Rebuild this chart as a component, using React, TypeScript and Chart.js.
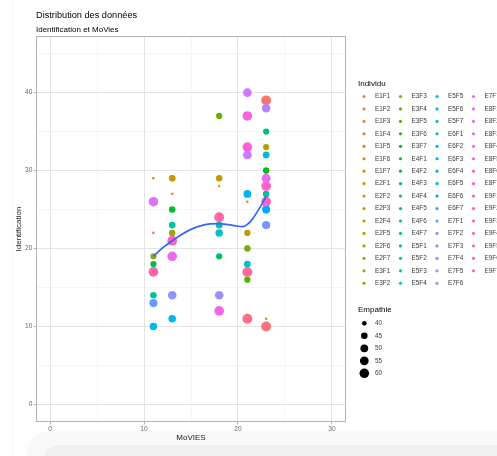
import React, { useEffect, useRef } from 'react';
import { Chart, registerables } from 'chart.js';

Chart.register(...registerables);

// ---------- data ----------
const individus = [
  'E1F1','E1F2','E1F3','E1F4','E1F5','E1F6','E1F7',
  'E2F1','E2F2','E2F3','E2F4','E2F5','E2F6','E2F7',
  'E3F1','E3F2','E3F3','E3F4','E3F5','E3F6','E3F7',
  'E4F1','E4F2','E4F3','E4F4','E4F5','E4F6','E4F7',
  'E5F1','E5F2','E5F3','E5F4','E5F5','E5F6','E5F7',
  'E6F1','E6F2','E6F3','E6F4','E6F5','E6F6','E6F7',
  'E7F1','E7F2','E7F3','E7F4','E7F5','E7F6','E7F7',
  'E8F1','E8F2','E8F3','E8F4','E8F5','E8F6','E8F7',
  'E9F1','E9F2','E9F3','E9F4','E9F5','E9F6','E9F7',
];

const movies = [
  23, 11, 13, 18, 21, 23, 11,
  13, 13, 18, 21, 23, 13, 13,
  11, 21, 21, 18, 21, 23, 23,
  13, 11, 18, 23, 23, 23, 23,
  11, 13, 18, 21, 23, 18, 11,
  11, 13, 21, 23, 23, 23, 23,
  11, 23, 13, 18, 23, 21, 21,
  11, 23, 13, 18, 21, 21, 23,
  23, 13, 11, 18, 21, 21, 23,
];

const identification = [
  39, 22, 27, 28, 26, 11, 29,
  29, 29, 29, 22, 33, 22, 22,
  19, 20, 20, 37, 16, 30, 30,
  25, 18, 19, 35, 27, 27, 27,
  14, 23, 23, 18, 32, 22, 10,
  10, 11, 27, 25, 25, 23, 23,
  13, 23, 14, 14, 38, 32, 40,
  26, 29, 19, 12, 37, 33, 28,
  26, 21, 17, 24, 17, 11, 10,
];

const empathie = [
  62, 38, 38, 38, 38, 38, 38,
  44, 45, 45, 44, 44, 43, 44,
  44, 43, 44, 44, 44, 43, 44,
  45, 44, 44, 44, 43, 43, 44,
  45, 46, 46, 46, 46, 49, 46,
  48, 49, 50, 48, 50, 48, 48,
  52, 51, 54, 54, 54, 55, 55,
  60, 56, 60, 60, 60, 60, 61,
  61, 61, 61, 62, 62, 62, 62,
];

// loess smooth
const smoothX = [11, 12, 13, 14, 15, 16, 17, 18, 19, 20, 20.5, 21, 21.5, 22, 22.5, 23];
const smoothY = [19.0, 20.1, 21.0, 21.8, 22.45, 22.9, 23.15, 23.2, 23.05, 22.85, 22.8, 23.1, 23.7, 24.6, 25.6, 26.7];

const xMajorTicks = [0, 10, 20, 30];
const xMinorTicks = [5, 15, 25];
const yMajorTicks = [0, 10, 20, 30, 40];
const yMinorTicks = [5, 15, 25, 35, 45];
const empathieBreaks = [40, 45, 50, 55, 60];

const TITLE = 'Distribution des données';
const SUBTITLE = 'Identification et MoVies';
const X_TITLE = 'MoVIES';
const Y_TITLE = 'Identification';
const LEGEND_COLOR_TITLE = 'Individu';
const LEGEND_SIZE_TITLE = 'Empathie';

// ---------- styling helpers ----------
const FONT = '"Liberation Sans", Arial, Helvetica, sans-serif';

function hcl(h: number, c: number, l: number): string {
  const hr = (h * Math.PI) / 180;
  const U = c * Math.cos(hr);
  const V = c * Math.sin(hr);
  const Xn = 95.047, Yn = 100, Zn = 108.883;
  const Y = l > 8 ? Yn * Math.pow((l + 16) / 116, 3) : (Yn * l) / 903.3;
  const den = Xn + 15 * Yn + 3 * Zn;
  const un = (4 * Xn) / den;
  const vn = (9 * Yn) / den;
  const u = U / (13 * l) + un;
  const v = V / (13 * l) + vn;
  const X = (9 * Y * u) / (4 * v);
  const Z = -X / 3 - 5 * Y + (3 * Y) / v;
  const x = X / 100, y = Y / 100, z = Z / 100;
  const lin = [
    3.240479 * x - 1.53715 * y - 0.498535 * z,
    -0.969256 * x + 1.875992 * y + 0.041556 * z,
    0.055648 * x - 0.204043 * y + 1.057311 * z,
  ];
  const out = lin.map((t) => {
    const g = t <= 0.0031308 ? 12.92 * t : 1.055 * Math.pow(t, 1 / 2.4) - 0.055;
    return Math.round(Math.min(1, Math.max(0, g)) * 255);
  });
  return `rgb(${out[0]},${out[1]},${out[2]})`;
}

const palette = individus.map((_, i) => hcl(15 + (360 * i) / individus.length, 100, 65));

function sizeOf(v: number): number {
  const t = Math.max(0, (v - 38) / (64 - 38));
  return 1.3 + 3.8 * Math.sqrt(t);
}

const decorPlugin = {
  id: 'decor',
  afterDatasetsDraw(chart: any) {
    const { ctx, chartArea } = chart;
    ctx.save();
    ctx.strokeStyle = '#b3b3b3';
    ctx.lineWidth = 1;
    ctx.strokeRect(chartArea.left + 0.5, chartArea.top + 0.5, chartArea.right - chartArea.left - 1, chartArea.bottom - chartArea.top - 1);
    ctx.restore();
  },
  afterDraw(chart: any) {
    const { ctx } = chart;
    ctx.save();
    ctx.textBaseline = 'middle';
    ctx.textAlign = 'left';
    // titles
    ctx.fillStyle = '#000';
    ctx.font = `9.2px ${FONT}`;
    ctx.fillText(TITLE, 36, 15.5);
    ctx.font = `8px ${FONT}`;
    ctx.fillText(SUBTITLE, 36, 29.5);

    // colour legend
    ctx.fillStyle = '#000';
    ctx.font = `8px ${FONT}`;
    ctx.fillText(LEGEND_COLOR_TITLE, 358, 84);
    const rows = 16;
    ctx.font = `6.4px ${FONT}`;
    individus.forEach((name, i) => {
      const col = Math.floor(i / rows);
      const row = i % rows;
      const y = 96.5 + row * 12.45;
      const dx = 364 + col * 36.5;
      ctx.fillStyle = palette[i];
      ctx.beginPath();
      ctx.arc(dx, y, 1.6, 0, Math.PI * 2);
      ctx.fill();
      ctx.fillStyle = '#3a3a3a';
      ctx.fillText(name, dx + 11, y);
    });

    // size legend
    ctx.fillStyle = '#000';
    ctx.font = `8px ${FONT}`;
    ctx.fillText(LEGEND_SIZE_TITLE, 358, 310);
    ctx.font = `6.4px ${FONT}`;
    empathieBreaks.forEach((b, i) => {
      const y = 323.3 + i * 12.5;
      ctx.fillStyle = '#000';
      ctx.beginPath();
      ctx.arc(364.3, y, sizeOf(b), 0, Math.PI * 2);
      ctx.fill();
      ctx.fillStyle = '#3a3a3a';
      ctx.fillText(String(b), 375, y);
    });
    ctx.restore();
  },
};

export default function App() {
  const canvasRef = useRef<HTMLCanvasElement | null>(null);

  useEffect(() => {
    document.body.style.margin = '0';
    const canvas = canvasRef.current;
    if (!canvas) return;

    const points = individus.map((_, i) => ({ x: movies[i], y: identification[i] }));
    const radii = empathie.map(sizeOf);
    const smooth = smoothX.map((x, i) => ({ x, y: smoothY[i] }));

    const xAll = [...xMajorTicks, ...xMinorTicks].sort((a, b) => a - b);
    const yAll = [...yMajorTicks, ...yMinorTicks].sort((a, b) => a - b);

    const gridColor = (majors: number[]) => (c: any) =>
      c.tick && majors.includes(c.tick.value) ? '#e4e4e4' : '#f1f1f1';
    const gridWidth = (majors: number[]) => (c: any) =>
      c.tick && majors.includes(c.tick.value) ? 1 : 0.7;
    const tickColor = (majors: number[]) => (c: any) =>
      c.tick && majors.includes(c.tick.value) ? '#b3b3b3' : 'rgba(0,0,0,0)';

    const chart = new Chart(canvas, {
      type: 'scatter',
      data: {
        datasets: [
          {
            label: 'loess',
            data: smooth,
            showLine: true,
            borderColor: '#3366FF',
            borderWidth: 1.7,
            pointRadius: 0,
            fill: false,
            cubicInterpolationMode: 'monotone',
            order: 0,
          } as any,
          {
            label: 'Individu',
            data: points,
            backgroundColor: palette,
            borderWidth: 0,
            pointRadius: radii,
            pointHoverRadius: radii,
            order: 1,
          } as any,
        ],
      },
      plugins: [decorPlugin],
      options: {
        animation: false,
        responsive: false,
        events: [],
        layout: { padding: { top: 36, right: 151, bottom: 0, left: 0 } },
        plugins: {
          legend: { display: false },
          tooltip: { enabled: false },
          title: { display: false },
        },
        scales: {
          x: {
            type: 'linear',
            min: -1.5,
            max: 31.5,
            afterBuildTicks: (axis: any) => {
              axis.ticks = xAll.map((v) => ({ value: v }));
            },
            afterFit: (axis: any) => {
              axis.height = 34;
            },
            ticks: {
              autoSkip: false,
              maxRotation: 0,
              padding: 1,
              color: '#666',
              font: { size: 6.6, family: FONT },
              callback: (v: any) => (xMajorTicks.includes(Number(v)) ? String(v) : ''),
            },
            grid: {
              color: gridColor(xMajorTicks),
              lineWidth: gridWidth(xMajorTicks),
              tickColor: tickColor(xMajorTicks),
              tickLength: 2.5,
              drawTicks: true,
            },
            border: { display: false },
            title: {
              display: true,
              text: X_TITLE,
              color: '#1a1a1a',
              font: { size: 8, family: FONT },
              padding: { top: 0, bottom: 13.2 },
            },
          },
          y: {
            type: 'linear',
            min: -2.25,
            max: 47.25,
            afterBuildTicks: (axis: any) => {
              axis.ticks = yAll.map((v) => ({ value: v }));
            },
            afterFit: (axis: any) => {
              axis.width = 36;
            },
            ticks: {
              autoSkip: false,
              padding: 1.2,
              color: '#666',
              font: { size: 6.6, family: FONT },
              callback: (v: any) => (yMajorTicks.includes(Number(v)) ? String(v) : ''),
            },
            grid: {
              color: gridColor(yMajorTicks),
              lineWidth: gridWidth(yMajorTicks),
              tickColor: tickColor(yMajorTicks),
              tickLength: 2.5,
              drawTicks: true,
            },
            border: { display: false },
            title: {
              display: true,
              text: Y_TITLE,
              color: '#1a1a1a',
              font: { size: 8, family: FONT },
              padding: { top: 13.7, bottom: 0 },
            },
          },
        },
      } as any,
    });

    return () => chart.destroy();
  }, []);

  return (
    <div style={{ position: 'fixed', left: 0, top: 0, width: 497, height: 456, background: '#fff', overflow: 'hidden' }}>
      <div style={{ position: 'absolute', left: 12, top: 0, width: 1, height: 456, background: '#f6f6f6' }} />
      <div style={{ position: 'absolute', left: 27, top: 431, width: 500, height: 40, background: '#f8f8f8', borderTopLeftRadius: 22 }} />
      <div style={{ position: 'absolute', left: 43, top: 445, width: 480, height: 30, background: '#efefef', borderTopLeftRadius: 16 }} />
      <canvas ref={canvasRef} width={497} height={456} style={{ position: 'absolute', left: 0, top: 0, width: 497, height: 456 }} />
    </div>
  );
}
